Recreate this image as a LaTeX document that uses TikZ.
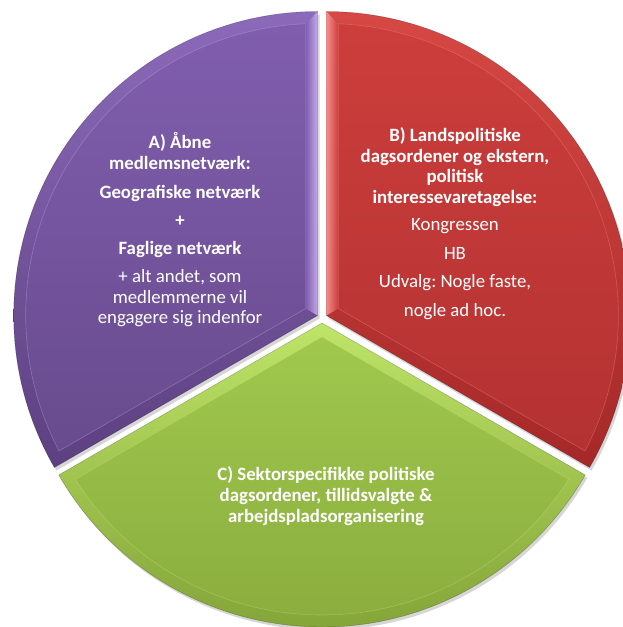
\documentclass[tikz,border=0pt]{standalone}
\usepackage{fontspec}
\setmainfont{Carlito}
\usetikzlibrary{calc}
\definecolor{puTop}{RGB}{140,106,186}
\definecolor{puBot}{RGB}{92,64,128}
\definecolor{puITop}{RGB}{128,94,174}
\definecolor{puIBot}{RGB}{104,75,142}
\definecolor{puHi}{RGB}{205,180,245}
\definecolor{reTop}{RGB}{214,72,68}
\definecolor{reBot}{RGB}{165,40,40}
\definecolor{reITop}{RGB}{204,62,60}
\definecolor{reIBot}{RGB}{180,50,50}
\definecolor{reHi}{RGB}{250,150,150}
\definecolor{grTop}{RGB}{190,228,104}
\definecolor{grBot}{RGB}{124,156,50}
\definecolor{grITop}{RGB}{160,200,78}
\definecolor{grIBot}{RGB}{136,170,60}
\definecolor{grHi}{RGB}{200,235,120}
\tikzset{
  lbl/.style={text=white,font=\fontsize{18.8}{22}\selectfont\bfseries\frenchspacing,anchor=mid,inner sep=0pt},
  lblr/.style={text=white,font=\fontsize{18.8}{22}\selectfont\frenchspacing,anchor=mid,inner sep=0pt},
  shadowfill/.style={fill=black,opacity=0.16}
}
% #1 name, #2 apex, #3 a1, #4 a2, #5 colour prefix
\newcommand\pieslice[5]{%
  \coordinate (#1apex) at (#2);
  \coordinate (#1in) at ($(#1apex)+({(#3+#4)/2}:13.9pt)$);
  \fill[shadowfill] ($(#1apex)+(2pt,-3pt)$) -- ++(#3:304pt) arc[start angle=#3,end angle=#4,radius=304pt] -- cycle;
  \shade[top color=#5Top,bottom color=#5Bot] (#1apex) -- ($(#1apex)+(#3:304pt)$) arc[start angle=#3,end angle=#4,radius=304pt] -- cycle;
  \shade[top color=#5ITop,bottom color=#5IBot] (#1in) -- ($(#1apex)+({#3+2.36}:292pt)$) arc[start angle={#3+2.36},end angle={#4-2.36},radius=292pt] -- cycle;
  \draw[#5Hi,opacity=0.35,line width=0.6pt] (#1in) -- ($(#1apex)+({#3+2.36}:292pt)$) arc[start angle={#3+2.36},end angle={#4-2.36},radius=292pt] -- cycle;
  \draw[black,opacity=0.25,line width=0.5pt] (#1apex) -- ($(#1apex)+(#3:304pt)$) arc[start angle=#3,end angle=#4,radius=304pt] -- cycle;
}
\begin{document}
\begin{tikzpicture}[x=1pt,y=1pt]
\useasboundingbox (0,0) rectangle (623,627);
\begin{scope}
\clip (0,0) rectangle (623,627);
\pieslice{P}{317.67,311.5}{90}{210}{pu}
\pieslice{R}{326.33,311.5}{-30}{90}{re}
\pieslice{G}{322,304}{210}{330}{gr}
% edge highlights
\shade[left color=puITop,right color=puHi,opacity=0.9] (Pin) -- ($(Papex)+(92.36:292pt)$) -- ($(Papex)+(90:304pt)$) -- (Papex) -- cycle;
\shade[left color=reHi,right color=reITop,opacity=0.9] (Rin) -- ($(Rapex)+(87.64:292pt)$) -- ($(Rapex)+(90:304pt)$) -- (Rapex) -- cycle;
\end{scope}
% A
\node[lbl] (a1) at (180,481) {A) Åbne};
\node[lbl] (a2) at (180,460) {medlemsnetværk:};
\node[lbl] (a3) at (180,431) {Geografiske netværk};
\node[lbl] (a4) at (180,403) {+};
\node[lbl] (a5) at (180,375) {Faglige netværk};
\node[lblr] (a6) at (180,347) {+ alt andet, som};
\node[lblr] (a7) at (180,326) {medlemmerne vil};
\node[lblr] (a8) at (180,306) {engagere sig indenfor};
% B
\node[lbl] (b1) at (455,488) {B) Landspolitiske};
\node[lbl] (b2) at (455,467) {dagsordener og ekstern,};
\node[lbl] (b3) at (455,447) {politisk};
\node[lbl] (b4) at (455,426) {interessevaretagelse:};
\node[lblr] (b5) at (455,399) {Kongressen};
\node[lblr] (b6) at (455,370) {HB};
\node[lblr] (b7) at (455,342) {Udvalg: Nogle faste,};
\node[lblr] (b8) at (455,313) {nogle ad hoc.};
% C
\node[lbl] (c1) at (326,149) {C) Sektorspecifikke politiske};
\node[lbl] (c2) at (326,128) {dagsordener, tillidsvalgte \&};
\node[lbl] (c3) at (326,107) {arbejdspladsorganisering};
\end{tikzpicture}
\end{document}
